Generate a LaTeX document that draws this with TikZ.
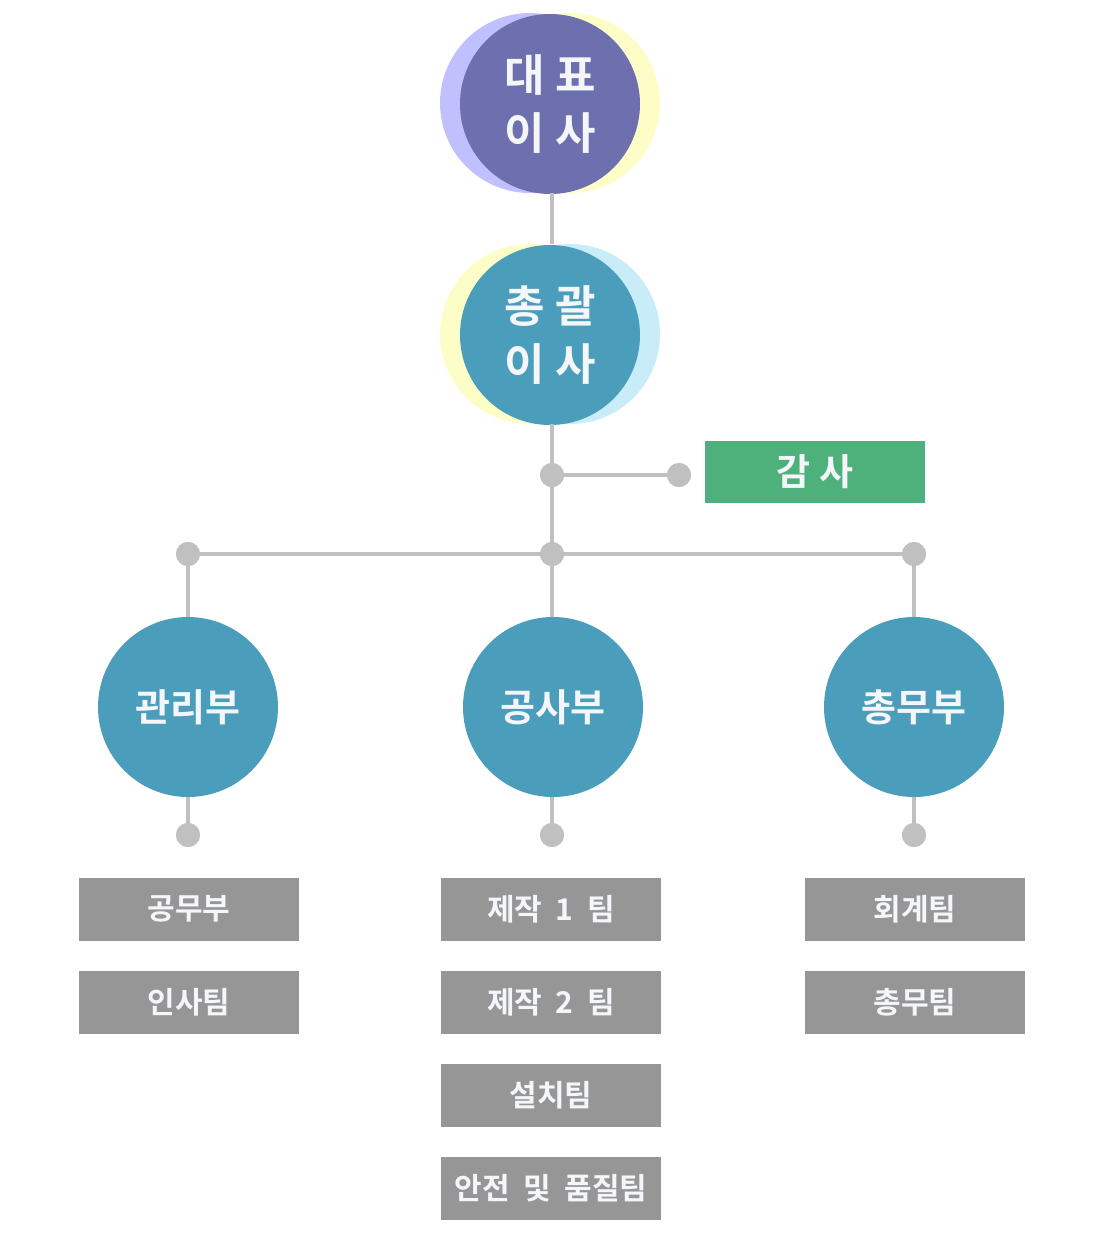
\documentclass[tikz,border=0pt]{standalone}
\usepackage{fontspec}
\setmainfont{Noto Sans CJK KR}[BoldFont={* Bold}]
\newfontfamily\kr{Noto Sans CJK KR Bold}
\newcommand\teamfont{\kr\fontsize{30}{32}\selectfont\setlength{\spaceskip}{0.45em}}
\definecolor{lineg}{HTML}{C0C0C0}
\definecolor{purp}{HTML}{6E6FAE}
\definecolor{lav}{HTML}{C0C0FF}
\definecolor{yel}{HTML}{FDFDC8}
\definecolor{teal}{HTML}{4A9EBC}
\definecolor{lblue}{HTML}{C8ECF8}
\definecolor{grn}{HTML}{4EB07A}
\definecolor{boxg}{HTML}{969696}
\definecolor{txt}{HTML}{F4F6FA}
\begin{document}
\begin{tikzpicture}[x=1pt,y=-1pt,
  conn/.style={draw=lineg,line width=4.5pt},
  dotnode/.style={circle,fill=lineg,minimum size=24pt,inner sep=0pt},
  bigc/.style={circle,minimum size=180pt,inner sep=0pt,text=txt,align=center,font=\kr\fontsize{44}{58}\selectfont},
  deptc/.style={circle,fill=teal,minimum size=180pt,inner sep=0pt,text=txt,font=\kr\fontsize{38}{40}\selectfont},
  teambox/.style={rectangle,fill=boxg,minimum width=220pt,minimum height=63pt,inner sep=0pt,text=txt,font=\teamfont},
]
\useasboundingbox (0,0) rectangle (1100,1237);
% top circle
\fill[lav] (530,103) circle (90);
\fill[yel] (570,103) circle (90);
\node[bigc,fill=purp] (ceo) at (550,104) {대 표\\이 사};
% second circle
\fill[yel] (530,334) circle (90);
\fill[lblue] (570,334) circle (90);
\node[bigc,fill=teal] (gm) at (550,335) {총 괄\\이 사};
% connector points
\coordinate (c1) at (552,193);
\coordinate (c2) at (552,244);
\coordinate (c3) at (552,424);
\node[dotnode] (da) at (552,475) {};
\node[dotnode] (db) at (679,475) {};
\node[dotnode] (h1) at (188,554) {};
\node[dotnode] (h2) at (552,554) {};
\node[dotnode] (h3) at (914,554) {};
% dept circles
\node[deptc] (d1) at (188,707) {관리부};
\node[deptc] (d2) at (553,707) {공사부};
\node[deptc] (d3) at (914,707) {총무부};
\node[dotnode] (e1) at (188,835) {};
\node[dotnode] (e2) at (552,835) {};
\node[dotnode] (e3) at (914,835) {};
% connectors
\draw[conn] (c1) -- (c2);
\draw[conn] (c3) -- (h2.center);
\draw[conn] (da.center) -- (db.center);
\draw[conn] (h1.center) -- (h3.center);
\draw[conn] (h1.center) -- (d1.north);
\draw[conn] (h2.center) -- (d2.north -| h2);
\draw[conn] (h3.center) -- (d3.north);
\draw[conn] (d1.south) -- (e1.center);
\draw[conn] (d2.south -| e2) -- (e2.center);
\draw[conn] (d3.south) -- (e3.center);
% dots on top
\foreach \n in {da,db,h1,h2,h3,e1,e2,e3}
  \fill[lineg] (\n.center) circle (12);
% audit
\node[rectangle,fill=grn,minimum width=220pt,minimum height=62pt,inner sep=0pt,text=txt,font=\kr\fontsize{37}{40}\selectfont] (audit) at (815,472) {감 사};
% teams
\node[teambox] (t11) at (189,909) {공무부};
\node[teambox] (t12) at (189,1002) {인사팀};
\node[teambox] (t21) at (551,909) {제작 1 팀};
\node[teambox] (t22) at (551,1002) {제작 2 팀};
\node[teambox] (t23) at (551,1095) {설치팀};
\node[teambox] (t24) at (551,1188) {안전 및 품질팀};
\node[teambox] (t31) at (915,909) {회계팀};
\node[teambox] (t32) at (915,1002) {총무팀};
\end{tikzpicture}
\end{document}
